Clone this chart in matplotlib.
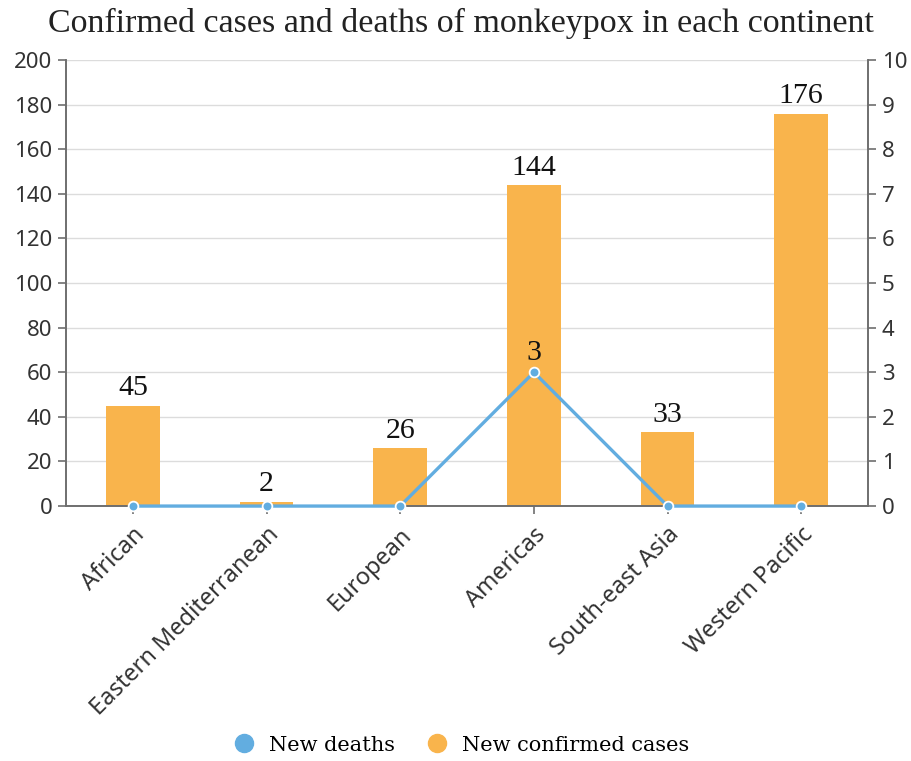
import matplotlib
matplotlib.use("Agg")
import matplotlib.pyplot as plt
from matplotlib.lines import Line2D

continents = ["African", "Eastern Mediterranean", "European", "Americas",
              "South-east Asia", "Western Pacific"]
confirmed = [45, 2, 26, 144, 33, 176]
deaths = [0, 0, 0, 3, 0, 0]

bar_color = "#F9B44C"
line_color = "#62ADE0"
axis_grey = "#6E6E6E"

fig = plt.figure(figsize=(9.12, 7.61), dpi=100)
ax = fig.add_axes([0.0724, 0.335, 0.8794, 0.586])
ax2 = ax.twinx()

x = range(len(continents))
ax.bar(x, confirmed, width=0.4, color=bar_color, zorder=2)
for i, v in enumerate(confirmed):
    ax.text(i, v + 2.0, str(v), ha="center", va="bottom", fontsize=21.5,
            family="Liberation Serif", color="#111111")

ax.set_xlim(-0.5, len(continents) - 0.5)
ax.set_ylim(0, 200)
ax.set_yticks(range(0, 201, 20))
ax2.set_ylim(0, 10)
ax2.set_yticks(range(0, 11))

ax2.plot(x, deaths, color=line_color, lw=2.4, marker="o", ms=7,
         markerfacecolor=line_color, markeredgecolor="white", mew=1.3,
         zorder=3, clip_on=False)
for i, v in enumerate(deaths):
    if v > 0:
        ax2.text(i, v + 0.15, str(v), ha="center", va="bottom", fontsize=21.5,
                 family="Liberation Serif", color="#111111")

ax.grid(axis="y", color="#DCDCDC", lw=1, zorder=0)
ax.set_axisbelow(True)

for a in (ax, ax2):
    a.spines["top"].set_visible(False)
    for s in ("left", "right", "bottom"):
        a.spines[s].set_color(axis_grey)
        a.spines[s].set_linewidth(1.2)
    a.tick_params(axis="y", labelsize=16, colors="#333333", length=6,
                  color=axis_grey, width=1.2, pad=4)
    for lbl in a.get_yticklabels():
        lbl.set_family("Noto Sans")

ax.set_xticks(list(x))
ax.set_xticklabels(continents, rotation=45, ha="right", rotation_mode="anchor",
                   fontsize=17, family="Noto Sans", color="#333333")
ax.tick_params(axis="x", length=6, color=axis_grey, width=1.2, pad=6)

fig.text(0.505, 0.969, "Confirmed cases and deaths of monkeypox in each continent",
         ha="center", va="center", fontsize=24.5, family="Liberation Serif",
         color="#222222")

handles = [
    Line2D([], [], ls="none", marker="o", ms=13, color=line_color),
    Line2D([], [], ls="none", marker="o", ms=13, color=bar_color),
]
fig.legend(handles, ["New deaths", "New confirmed cases"], loc="center",
           bbox_to_anchor=(0.5, 0.021), ncol=2, frameon=False, handletextpad=0.2,
           columnspacing=1.0, prop={"family": "DejaVu Serif", "size": 15})

fig.savefig("out.png", dpi=100)
